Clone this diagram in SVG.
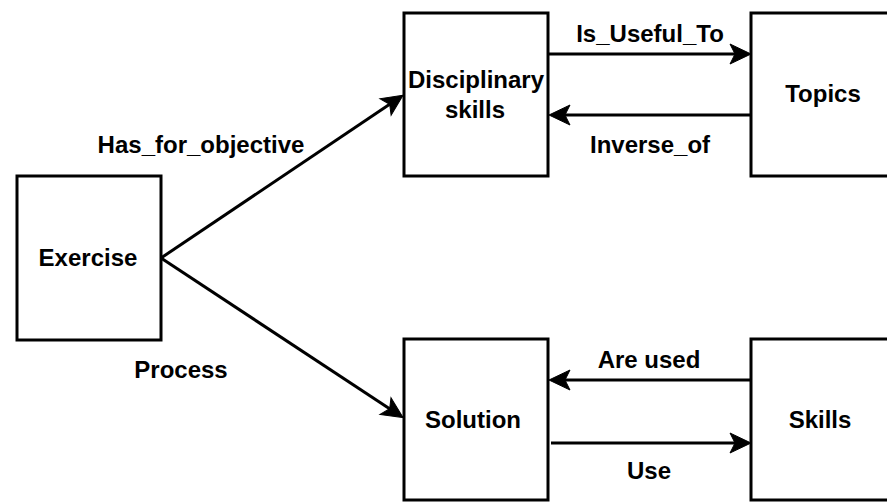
<svg xmlns="http://www.w3.org/2000/svg" width="887" height="502" viewBox="0 0 887 502">
<style>
  .box { fill: #ffffff; stroke: #000000; stroke-width: 3; }
  .edge { fill: none; stroke: #000000; stroke-width: 3; }
  .lbl { font-family: "Liberation Sans", Arial, sans-serif; font-size: 24px; font-weight: bold; fill: #000000; text-anchor: middle; }
</style>
<defs>
  <marker id="arrow" markerUnits="userSpaceOnUse" markerWidth="40" markerHeight="40" viewBox="-20 -20 40 40" refX="0" refY="0" orient="auto" overflow="visible">
    <path d="M12,0 L-9,-10 L-4,0 L-9,10 Z" fill="#000000" stroke="#000000" stroke-width="1" stroke-linejoin="miter"/>
  </marker>
</defs>
<rect width="887" height="502" fill="#ffffff"/>

<g id="connectors">
  <path class="edge" d="M161,258 L393,102" marker-end="url(#arrow)"/>
  <path class="edge" d="M161,258 L393,411" marker-end="url(#arrow)"/>
  <path class="edge" d="M548,54 L739,54" marker-end="url(#arrow)"/>
  <path class="edge" d="M751,115 L561,115" marker-end="url(#arrow)"/>
  <path class="edge" d="M751,380 L561,380" marker-end="url(#arrow)"/>
  <path class="edge" d="M551,443 L739,443" marker-end="url(#arrow)"/>
  <text class="lbl" x="201" y="153">Has_for_objective</text>
  <text class="lbl" x="181" y="378">Process</text>
  <text class="lbl" x="650" y="42">Is_Useful_To</text>
  <text class="lbl" x="650" y="153">Inverse_of</text>
  <text class="lbl" x="649" y="368">Are used</text>
  <text class="lbl" x="649" y="479">Use</text>
</g>

<g id="exercise">
  <rect class="box" x="17" y="176" width="144" height="164"/>
  <text class="lbl" x="88" y="266">Exercise</text>
</g>
<g id="disciplinary-skills">
  <rect class="box" x="404" y="13" width="144" height="163"/>
  <text class="lbl" x="476" y="88">Disciplinary</text>
  <text class="lbl" x="475" y="118">skills</text>
</g>
<g id="topics">
  <rect class="box" x="751" y="13" width="160" height="163"/>
  <text class="lbl" x="823" y="102">Topics</text>
</g>
<g id="solution">
  <rect class="box" x="404" y="339" width="144" height="161"/>
  <text class="lbl" x="473" y="428">Solution</text>
</g>
<g id="skills">
  <rect class="box" x="751" y="339" width="160" height="161"/>
  <text class="lbl" x="820" y="428">Skills</text>
</g>
</svg>
